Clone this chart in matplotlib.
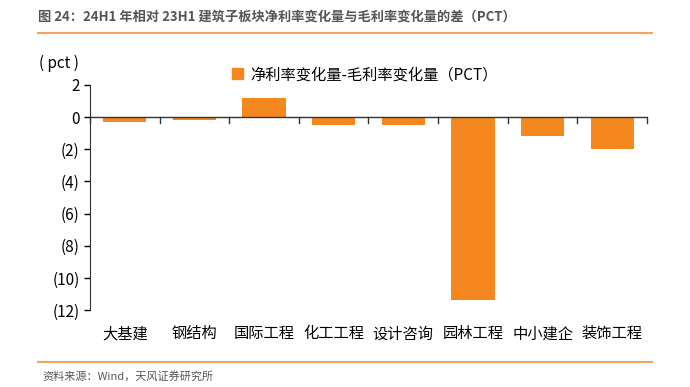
import matplotlib
matplotlib.use("Agg")
import matplotlib.pyplot as plt
from matplotlib.lines import Line2D
from matplotlib.patches import Rectangle

plt.rcParams['font.family'] = ['Noto Sans CJK SC', 'DejaVu Sans']

categories = ["大基建", "钢结构", "国际工程", "化工工程", "设计咨询", "园林工程", "中小建企", "装饰工程"]
values = [-0.3, -0.2, 1.2, -0.5, -0.5, -11.4, -1.2, -2.0]
yticks = [2, 0, -2, -4, -6, -8, -10, -12]
yticklabels = ["2", "0", "(2)", "(4)", "(6)", "(8)", "(10)", "(12)"]
series_name = "净利率变化量-毛利率变化量（PCT）"
title = "图 24：24H1 年相对 23H1 建筑子板块净利率变化量与毛利率变化量的差（PCT）"
source = "资料来源：Wind，天风证券研究所"

color = "#F5871F"
fig = plt.figure(figsize=(6.9, 3.87), dpi=100)
ax = fig.add_axes([0.1304, 0.199, 0.8073, 0.5814])

x = list(range(len(categories)))
ax.bar(x, values, width=0.62, color=color, zorder=2)
ax.set_xlim(-0.5, len(categories) - 0.5)
ax.set_ylim(-12, 2)
ax.set_yticks(yticks)
ax.set_yticklabels(yticklabels, fontsize=11)
ax.set_xticks(x)
ax.set_xticklabels(categories, fontsize=11)
ax.tick_params(axis='x', length=0, pad=11)
ax.tick_params(axis='y', length=4, direction='out', width=1)

for s in ['top', 'right', 'bottom']:
    ax.spines[s].set_visible(False)
ax.spines['left'].set_color('#333333')
ax.axhline(0, color='#333333', lw=1, zorder=3)
# minor ticks between categories on the zero line
for b in [i - 0.5 for i in range(len(categories) + 1)]:
    ax.plot([b, b], [0, -0.35], color='#333333', lw=1, zorder=3, clip_on=False)

ax.text(-0.055, 1.098, "( pct )", transform=ax.transAxes, fontsize=11, ha='center', va='center')

handle = Rectangle((0, 0), 1, 1, color=color)
leg = ax.legend([handle], [series_name], loc='upper left', bbox_to_anchor=(0.23, 1.145),
                frameon=False, fontsize=11, handlelength=0.7, handleheight=0.7, handletextpad=0.5)

fig.text(38 / 690, 1 - 17 / 387, title, fontsize=9.5, fontweight='semibold', color='#555555', va='center', ha='left')
fig.add_artist(Line2D([38 / 690, 652 / 690], [1 - 33 / 387, 1 - 33 / 387], color='#F5A35C', lw=1.5))
fig.add_artist(Line2D([38 / 690, 652 / 690], [1 - 362 / 387, 1 - 362 / 387], color='#F5A35C', lw=1.5))
fig.text(42 / 690, 1 - 376 / 387, source, fontsize=8, color='#555555', va='center', ha='left')

fig.savefig("out.png", dpi=100)
